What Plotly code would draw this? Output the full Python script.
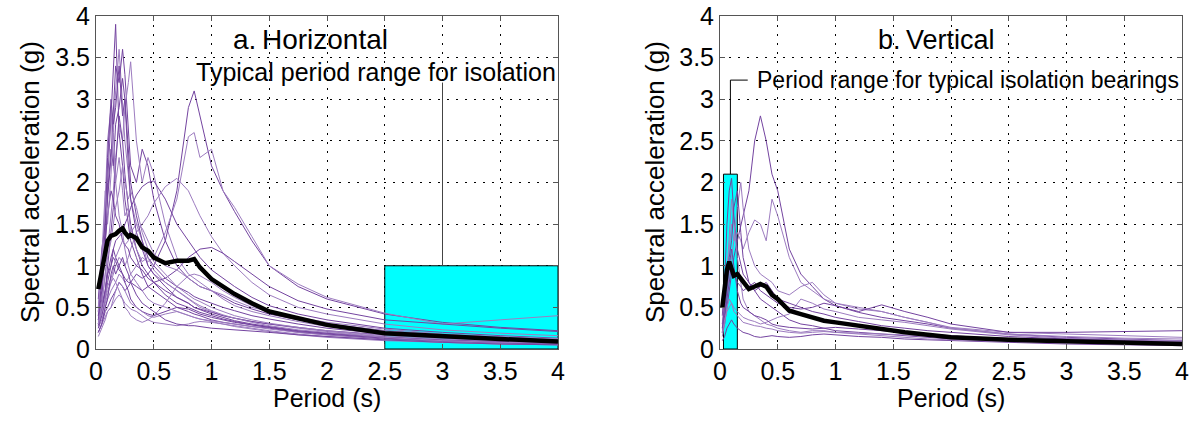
"""
Response spectra of the ground-motion records: horizontal (a) and vertical (b)
components, individual records in purple, the mean in thick black, and the
period band used for isolation shaded cyan.
"""
import plotly.graph_objects as go
from plotly.subplots import make_subplots

# --- Data ----------------------------------------------------------------------
PERIOD_H = [0.02, 0.05, 0.08, 0.1, 0.13, 0.15, 0.17, 0.2, 0.23, 0.25, 0.28, 0.3,
            0.35, 0.4, 0.45, 0.5, 0.6, 0.7, 0.8, 0.85, 0.9, 1.0, 1.1, 1.2, 1.35,
            1.5, 1.75, 2.0, 2.5, 3.0, 3.5, 4.0]

H01 = [0.3, 0.6, 1.2, 2.0, 2.8, 3.3, 3.9, 2.6, 2.2, 1.8, 1.5, 1.3, 1.1, 0.9, 0.75, 0.7,
       0.6, 0.5, 0.45, 0.42, 0.4, 0.35, 0.32, 0.3, 0.27, 0.25, 0.2, 0.17, 0.12, 0.09, 0.07, 0.06]
H02 = [0.5, 1.0, 1.6, 2.2, 2.9, 2.6, 3.1, 3.6, 3.0, 2.5, 2.1, 1.8, 1.5, 1.3, 1.0, 0.9,
       0.8, 0.7, 0.6, 0.55, 0.5, 0.45, 0.4, 0.37, 0.33, 0.3, 0.25, 0.21, 0.15, 0.11, 0.09, 0.07]
H03 = [0.4, 0.8, 1.3, 1.8, 2.3, 2.9, 3.4, 3.2, 3.6, 3.3, 2.6, 2.2, 2.0, 2.4, 2.2, 1.8,
       1.3, 1.0, 0.85, 0.8, 0.75, 0.7, 0.62, 0.55, 0.48, 0.42, 0.35, 0.3, 0.22, 0.17, 0.14, 0.11]
H04 = [0.3, 0.5, 0.9, 1.2, 1.6, 1.9, 2.3, 2.7, 2.5, 2.9, 3.2, 3.45, 2.5, 2.0, 2.3, 2.1,
       1.5, 1.1, 0.9, 0.85, 0.8, 0.7, 0.6, 0.52, 0.45, 0.4, 0.33, 0.27, 0.2, 0.15, 0.12, 0.1]
H05 = [0.2, 0.3, 0.45, 0.5, 0.6, 0.65, 0.7, 0.8, 0.75, 0.7, 0.75, 0.8, 0.9, 0.85, 0.9, 1.0,
       1.3, 1.9, 2.9, 3.1, 2.8, 2.2, 1.9, 1.65, 1.3, 1.0, 0.75, 0.6, 0.42, 0.32, 0.26, 0.22]
H06 = [0.25, 0.35, 0.5, 0.6, 0.7, 0.75, 0.8, 0.9, 0.85, 0.8, 0.85, 0.9, 1.0, 1.1, 1.05, 1.1,
       1.4, 1.8, 2.55, 2.6, 2.3, 2.4, 1.9, 1.7, 1.35, 1.0, 0.78, 0.62, 0.43, 0.3, 0.35, 0.4]
H07 = [0.35, 0.5, 0.7, 0.9, 1.1, 1.2, 1.3, 1.35, 1.4, 1.5, 1.6, 1.7, 1.85, 1.95, 2.0, 2.02,
       1.8, 1.5, 1.3, 1.2, 1.1, 0.95, 0.85, 0.75, 0.62, 0.52, 0.42, 0.35, 0.25, 0.2, 0.16, 0.13]
H08 = [0.3, 0.4, 0.55, 0.65, 0.8, 0.9, 1.0, 1.1, 1.05, 1.0, 1.1, 1.2, 1.4, 1.5, 1.6, 1.75,
       1.95, 2.05, 1.9, 1.75, 1.6, 1.35, 1.15, 1.0, 0.8, 0.65, 0.5, 0.42, 0.3, 0.23, 0.19, 0.16]
H09 = [0.4, 0.5, 0.7, 0.9, 1.0, 1.1, 1.05, 0.95, 0.9, 0.85, 0.8, 0.8, 0.75, 0.7, 0.75, 0.8,
       0.85, 0.95, 1.1, 1.15, 1.2, 1.22, 1.15, 1.05, 0.9, 0.75, 0.58, 0.48, 0.35, 0.3, 0.25, 0.21]
H10 = [0.15, 0.25, 0.35, 0.45, 0.5, 0.55, 0.6, 0.65, 0.6, 0.55, 0.5, 0.48, 0.45, 0.4, 0.35, 0.32,
       0.3, 0.28, 0.3, 0.32, 0.33, 0.32, 0.3, 0.28, 0.25, 0.22, 0.18, 0.15, 0.11, 0.08, 0.06, 0.05]
H11 = [0.25, 0.4, 0.6, 0.8, 1.0, 1.2, 1.1, 1.0, 0.9, 0.8, 0.7, 0.6, 0.5, 0.45, 0.42, 0.4,
       0.45, 0.5, 0.48, 0.45, 0.42, 0.38, 0.35, 0.32, 0.29, 0.26, 0.22, 0.19, 0.14, 0.1, 0.08, 0.07]
H12 = [0.5, 0.9, 1.8, 2.5, 2.9, 2.2, 2.0, 1.6, 1.4, 1.2, 1.0, 0.9, 0.8, 0.7, 0.6, 0.55,
       0.5, 0.45, 0.4, 0.38, 0.36, 0.33, 0.3, 0.27, 0.24, 0.21, 0.17, 0.14, 0.1, 0.08, 0.06, 0.05]
H13 = [0.6, 1.2, 1.5, 1.9, 2.4, 2.2, 2.7, 2.9, 3.25, 3.0, 2.4, 2.0, 1.6, 1.3, 1.1, 1.0,
       0.85, 0.75, 0.68, 0.63, 0.6, 0.55, 0.5, 0.46, 0.4, 0.36, 0.3, 0.25, 0.18, 0.14, 0.11, 0.09]
H14 = [0.2, 0.3, 0.4, 0.45, 0.5, 0.6, 0.7, 0.8, 0.75, 0.7, 0.6, 0.55, 0.5, 0.45, 0.4, 0.38,
       0.42, 0.45, 0.4, 0.38, 0.36, 0.34, 0.32, 0.3, 0.27, 0.24, 0.2, 0.17, 0.13, 0.1, 0.08, 0.07]
H15 = [0.45, 0.8, 1.3, 1.6, 1.9, 1.8, 1.6, 1.5, 1.3, 1.25, 1.2, 1.1, 1.0, 0.95, 0.85, 0.8,
       0.7, 0.62, 0.55, 0.5, 0.48, 0.44, 0.4, 0.37, 0.33, 0.3, 0.26, 0.22, 0.17, 0.13, 0.1, 0.08]
H16 = [0.35, 0.5, 0.65, 0.75, 0.85, 0.95, 1.1, 1.2, 1.3, 1.25, 1.3, 1.4, 1.5, 1.45, 1.3, 1.15,
       1.0, 0.95, 0.85, 0.8, 0.75, 0.7, 0.65, 0.58, 0.5, 0.45, 0.38, 0.32, 0.24, 0.18, 0.15, 0.12]
H17 = [0.28, 0.45, 0.7, 1.0, 1.4, 1.7, 2.2, 2.8, 2.5, 2.1, 1.7, 1.5, 1.2, 1.0, 0.9, 0.8,
       0.65, 0.55, 0.5, 0.47, 0.44, 0.4, 0.36, 0.33, 0.29, 0.26, 0.21, 0.18, 0.13, 0.1, 0.08, 0.06]
H18 = [0.3, 0.45, 0.6, 0.7, 0.8, 0.85, 0.8, 0.7, 0.6, 0.5, 0.45, 0.4, 0.35, 0.32, 0.35, 0.4,
       0.55, 0.75, 0.88, 0.9, 0.88, 0.8, 0.7, 0.62, 0.52, 0.45, 0.36, 0.3, 0.22, 0.17, 0.14, 0.12]
H19 = [0.35, 0.7, 1.5, 2.3, 3.0, 2.7, 2.9, 3.4, 2.8, 3.0, 2.2, 1.8, 1.4, 1.2, 1.0, 0.9,
       0.75, 0.62, 0.55, 0.5, 0.47, 0.42, 0.38, 0.34, 0.3, 0.27, 0.22, 0.19, 0.14, 0.11, 0.09, 0.07]
H20 = [0.45, 1.1, 1.9, 1.5, 2.1, 2.6, 2.0, 2.3, 1.9, 1.6, 1.7, 1.4, 1.2, 1.05, 1.1, 0.95,
       0.8, 0.7, 0.6, 0.56, 0.52, 0.46, 0.41, 0.37, 0.32, 0.28, 0.23, 0.2, 0.14, 0.1, 0.08, 0.07]
H21 = [0.2, 0.3, 0.5, 0.6, 0.9, 1.0, 0.9, 1.0, 1.1, 1.0, 0.9, 0.8, 0.65, 0.55, 0.5, 0.45,
       0.35, 0.3, 0.28, 0.28, 0.27, 0.25, 0.24, 0.23, 0.22, 0.2, 0.17, 0.15, 0.11, 0.08, 0.06, 0.05]
H22 = [0.3, 0.55, 0.9, 1.1, 1.3, 1.5, 1.7, 1.9, 2.2, 2.0, 1.8, 1.9, 1.7, 1.4, 1.2, 1.05,
       0.9, 0.75, 0.65, 0.6, 0.57, 0.5, 0.45, 0.4, 0.35, 0.31, 0.26, 0.22, 0.16, 0.12, 0.1, 0.08]
MEAN_H = [0.72, 0.95, 1.2, 1.3, 1.36, 1.37, 1.38, 1.42, 1.45, 1.4, 1.35, 1.37, 1.33, 1.22, 1.18, 1.1,
          1.03, 1.06, 1.06, 1.08, 0.98, 0.84, 0.75, 0.66, 0.55, 0.45, 0.37, 0.29, 0.19, 0.15, 0.12, 0.09]

PERIOD_V = [0.02, 0.04, 0.06, 0.08, 0.1, 0.12, 0.15, 0.18, 0.2, 0.25, 0.3, 0.35, 0.4,
            0.45, 0.5, 0.6, 0.7, 0.8, 0.9, 1.0, 1.2, 1.4, 1.6, 1.8, 2.0, 2.5, 3.0, 3.5, 4.0]

V01 = [0.2, 0.3, 0.5, 0.7, 0.9, 1.1, 1.3, 1.5, 1.6, 1.9, 2.5, 2.8, 2.5, 2.1, 1.9,
       1.2, 0.9, 0.75, 0.6, 0.52, 0.44, 0.38, 0.34, 0.3, 0.25, 0.18, 0.14, 0.12, 0.1]
V02 = [0.25, 0.4, 0.6, 0.9, 1.1, 1.3, 1.4, 1.3, 1.2, 1.4, 1.55, 1.5, 1.3, 1.8, 1.6,
       1.1, 0.8, 0.7, 0.6, 0.55, 0.48, 0.45, 0.38, 0.32, 0.26, 0.2, 0.18, 0.16, 0.14]
V03 = [0.4, 0.8, 1.5, 1.9, 2.05, 1.6, 1.2, 1.0, 0.9, 0.8, 0.7, 0.6, 0.55, 0.5, 0.45,
       0.35, 0.3, 0.28, 0.25, 0.22, 0.2, 0.18, 0.16, 0.14, 0.12, 0.1, 0.08, 0.07, 0.06]
V04 = [0.3, 0.6, 0.9, 1.2, 1.5, 1.3, 1.7, 2.0, 1.7, 1.2, 1.0, 0.9, 0.85, 0.8, 0.7,
       0.65, 0.75, 0.8, 0.65, 0.55, 0.5, 0.45, 0.38, 0.32, 0.25, 0.18, 0.15, 0.13, 0.12]
V05 = [0.2, 0.35, 0.6, 0.8, 1.0, 0.9, 0.8, 0.75, 0.7, 0.75, 0.8, 0.7, 0.65, 0.6, 0.55,
       0.5, 0.48, 0.5, 0.55, 0.52, 0.45, 0.53, 0.45, 0.38, 0.3, 0.2, 0.2, 0.21, 0.22]
V06 = [0.15, 0.3, 0.5, 0.6, 0.55, 0.5, 0.45, 0.4, 0.38, 0.35, 0.33, 0.3, 0.32, 0.35, 0.38,
       0.42, 0.6, 0.55, 0.48, 0.45, 0.38, 0.35, 0.32, 0.28, 0.24, 0.17, 0.13, 0.11, 0.09]
V07 = [0.1, 0.15, 0.25, 0.3, 0.35, 0.3, 0.25, 0.22, 0.2, 0.18, 0.15, 0.14, 0.15, 0.16, 0.15,
       0.14, 0.15, 0.17, 0.18, 0.17, 0.15, 0.14, 0.12, 0.11, 0.1, 0.08, 0.06, 0.05, 0.04]
V08 = [0.3, 0.5, 0.9, 1.4, 1.8, 1.5, 1.1, 0.8, 0.6, 0.45, 0.4, 0.35, 0.3, 0.28, 0.25,
       0.22, 0.2, 0.22, 0.22, 0.2, 0.18, 0.16, 0.14, 0.12, 0.11, 0.09, 0.07, 0.06, 0.05]
V09 = [0.2, 0.4, 0.7, 1.0, 1.2, 1.0, 0.7, 0.55, 0.5, 0.45, 0.4, 0.38, 0.35, 0.3, 0.28,
       0.26, 0.25, 0.24, 0.25, 0.26, 0.24, 0.22, 0.2, 0.18, 0.16, 0.12, 0.1, 0.08, 0.07]
V10 = [0.2, 0.35, 0.45, 0.5, 0.55, 0.45, 0.4, 0.35, 0.32, 0.3, 0.28, 0.27, 0.25, 0.24, 0.22,
       0.2, 0.19, 0.2, 0.21, 0.2, 0.19, 0.18, 0.17, 0.15, 0.14, 0.13, 0.12, 0.11, 0.1]
V11 = [0.25, 0.5, 0.8, 1.1, 1.3, 1.7, 1.9, 1.4, 1.1, 0.8, 0.7, 0.75, 0.8, 0.7, 0.6,
       0.55, 0.5, 0.45, 0.42, 0.38, 0.33, 0.28, 0.25, 0.22, 0.2, 0.15, 0.12, 0.1, 0.08]
MEAN_V = [0.5, 0.7, 0.95, 1.05, 0.95, 0.88, 0.9, 0.85, 0.8, 0.72, 0.75, 0.78, 0.75, 0.65, 0.6,
          0.46, 0.42, 0.38, 0.34, 0.32, 0.28, 0.23, 0.2, 0.17, 0.14, 0.11, 0.09, 0.08, 0.06]

# isolation period bands: (T start, T end, Sa top)
BAND_H = (2.5, 4.0, 1.0)
BAND_V = (0.03, 0.15, 2.1)

AXIS_TICKS = [0, 0.5, 1, 1.5, 2, 2.5, 3, 3.5, 4]
TICK_TEXT = ["0", "0.5", "1", "1.5", "2", "2.5", "3", "3.5", "4"]

# --- Styling ---------------------------------------------------------------------
FONT = "Liberation Sans, Arial, sans-serif"
PURPLE = "#7444A0"
PURPLE_LIGHT = "#9D7CC0"
CYAN = "#00FFFF"

# plot-area geometry in pixels (matches the original layout); the page's body
# margin is zeroed in post_script so these are window pixels
W, H = 1190, 421
M_L, M_R, M_T, M_B = 96, 8, 16, 72
PLOT_W = W - M_L - M_R
PLOT_H = H - M_T - M_B


def px_x(px):  # window pixel -> paper x
    return (px - M_L) / PLOT_W


def px_y(py):  # window pixel -> paper y
    return (H - M_B - py) / PLOT_H


fig = make_subplots(rows=1, cols=2, horizontal_spacing=0.15)

records_h = [H01, H02, H03, H04, H05, H06, H07, H08, H09, H10, H11,
             H12, H13, H14, H15, H16, H17, H18, H19, H20, H21, H22]
records_v = [V01, V02, V03, V04, V05, V06, V07, V08, V09, V10, V11]

for i, rec in enumerate(records_h):
    fig.add_trace(go.Scatter(x=PERIOD_H, y=rec, mode="lines", showlegend=False,
                             line=dict(color=PURPLE if i % 2 == 0 else PURPLE_LIGHT, width=1)),
                  row=1, col=1)
fig.add_trace(go.Scatter(x=PERIOD_H, y=MEAN_H, mode="lines", showlegend=False,
                         line=dict(color="black", width=4.5)), row=1, col=1)

for i, rec in enumerate(records_v):
    fig.add_trace(go.Scatter(x=PERIOD_V, y=rec, mode="lines", showlegend=False,
                             line=dict(color=PURPLE if i % 2 == 0 else PURPLE_LIGHT, width=1)),
                  row=1, col=2)
fig.add_trace(go.Scatter(x=PERIOD_V, y=MEAN_V, mode="lines", showlegend=False,
                         line=dict(color="black", width=4.5)), row=1, col=2)

# cyan period bands, above the grid but under the curves
for (x0, x1, top), xr, yr in [(BAND_H, "x", "y"), (BAND_V, "x2", "y2")]:
    fig.add_shape(type="rect", xref=xr, yref=yr, x0=x0, x1=x1, y0=0, y1=top,
                  fillcolor=CYAN, line=dict(color="black", width=1), layer="between")

# leader lines to the band labels
fig.add_shape(type="line", xref="x", yref="y", x0=3.0, x1=3.0, y0=BAND_H[2], y1=3.2,
              line=dict(color="#444", width=1))
v_mid = (BAND_V[0] + BAND_V[1]) / 2
fig.add_shape(type="path", xref="x2", yref="y2",
              path=f"M {v_mid},{BAND_V[2]} L {v_mid},3.23 L 0.24,3.23",
              line=dict(color="black", width=1))

fig.add_annotation(x=1.86, y=3.72, xref="x", yref="y", text="a.\u2009Horizontal",
                   showarrow=False, font=dict(size=28, color="black"))
fig.add_annotation(x=4.0, y=3.33, xref="x", yref="y", text="Typical period range for isolation",
                   showarrow=False, xanchor="right", font=dict(size=25, color="black"))
fig.add_annotation(x=1.87, y=3.71, xref="x2", yref="y2", text="b.\u2009Vertical",
                   showarrow=False, font=dict(size=27, color="black"))
fig.add_annotation(x=0.3, y=3.23, xref="x2", yref="y2", text="Period range for typical isolation bearings",
                   showarrow=False, xanchor="left", font=dict(size=23, color="black"))

# axis titles placed by hand so they sit where the original has them
for cx in (px_x(327), px_x(951)):
    fig.add_annotation(x=cx, y=px_y(398), xref="paper", yref="paper", text="Period (s)",
                       xanchor="center", yanchor="middle",
                       showarrow=False, font=dict(size=25, color="black"))
for cx in (px_x(30), px_x(655)):
    fig.add_annotation(x=cx, y=px_y(182), xref="paper", yref="paper", text="Spectral acceleration (g)",
                       xanchor="center", yanchor="middle", textangle=-90,
                       showarrow=False, font=dict(size=26, color="black"))

fig.update_layout(
    width=W, height=H,
    margin=dict(l=M_L, r=M_R, t=M_T, b=M_B),
    plot_bgcolor="white", paper_bgcolor="white",
    font=dict(family=FONT, size=25, color="black"),
)

axis_common = dict(
    range=[0, 4], tickvals=AXIS_TICKS, ticktext=TICK_TEXT, automargin=False,
    showline=True, mirror="ticks", linecolor="#555", linewidth=1,
    ticks="inside", ticklen=5, tickcolor="#555",
    showgrid=True, gridcolor="black", gridwidth=1, griddash="2px,7px",
    zeroline=False, tickfont=dict(size=25),
)
fig.update_xaxes(**axis_common)
fig.update_yaxes(**axis_common)
fig.update_xaxes(domain=[0, px_x(558)], row=1, col=1)
fig.update_xaxes(domain=[px_x(720), 1], row=1, col=2)

fig.write_html("out.html", config={"displayModeBar": False},
               post_script="document.body.style.margin = '0';")
